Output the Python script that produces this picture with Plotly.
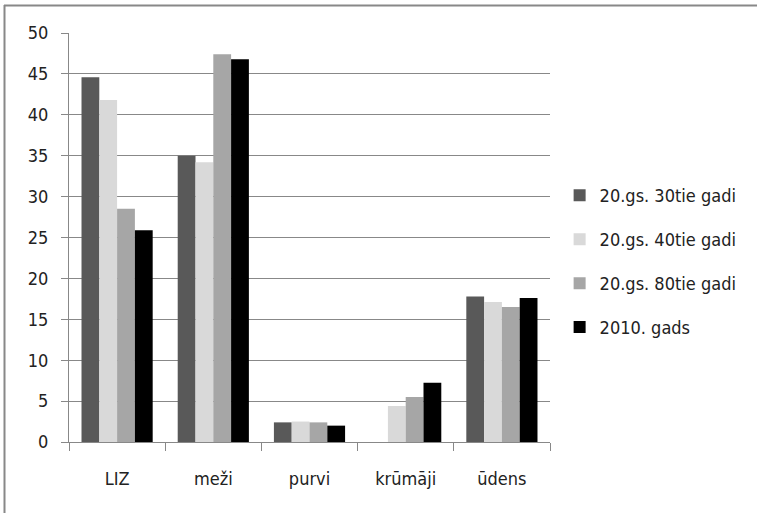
import plotly.graph_objects as go

categories = ["LIZ", "meži", "purvi", "krūmāji", "ūdens"]
series_names = ["20.gs. 30tie gadi", "20.gs. 40tie gadi", "20.gs. 80tie gadi", "2010. gads"]
s30 = [44.6, 35.0, 2.4, 0.0, 17.8]
s40 = [41.8, 34.2, 2.5, 4.4, 17.1]
s80 = [28.5, 47.4, 2.4, 5.5, 16.5]
s2010 = [25.9, 46.8, 2.0, 7.25, 17.6]
y_ticks = [0, 5, 10, 15, 20, 25, 30, 35, 40, 45, 50]

colors = ["#595959", "#d9d9d9", "#a6a6a6", "#000000"]
FONT = "DejaVu Sans Condensed, DejaVu Sans, sans-serif"

fig = go.Figure()
for i, (name, vals) in enumerate(zip(series_names, [s30, s40, s80, s2010])):
    fig.add_trace(go.Bar(x=categories, y=vals, name=name, marker_color=colors[i],
                         marker_line_width=0, legendgroup=name))

fig.update_layout(
    width=757, height=515,
    margin=dict(l=69, r=207, t=33, b=73),
    paper_bgcolor="white", plot_bgcolor="white",
    barmode="group", bargap=0.26, bargroupgap=0,
    font=dict(family=FONT, size=18, color="#222222"),
    showlegend=True,
    legend=dict(x=1.02, xanchor="left", y=0.441, yanchor="middle",
                font=dict(family=FONT, size=18, color="#222222"),
                tracegroupgap=17.5, bgcolor="rgba(0,0,0,0)"),
    xaxis=dict(showgrid=False, showline=True, linecolor="#888888", linewidth=1,
               ticks="outside", tickson="boundaries", ticklen=8, tickcolor="#888888",
               ticklabelstandoff=20, tickfont=dict(size=18)),
    yaxis=dict(range=[0, 50], tickvals=y_ticks, showgrid=True, gridcolor="#888888",
               gridwidth=1, showline=True, linecolor="#888888", linewidth=1,
               ticks="outside", ticklen=7, tickcolor="#888888", zeroline=False,
               ticklabelstandoff=9, tickfont=dict(size=18)),
)
# chart-area border (top and left visible)
fig.add_shape(type="line", xref="paper", yref="paper",
              x0=(4 - 69) / 481, x1=(757 - 69) / 481, y0=(442 - 5.5) / 409, y1=(442 - 5.5) / 409,
              line=dict(color="#888888", width=2))
fig.add_shape(type="line", xref="paper", yref="paper",
              x0=(4.5 - 69) / 481, x1=(4.5 - 69) / 481, y0=(442 - 5) / 409, y1=(442 - 513) / 409,
              line=dict(color="#888888", width=2))

fig.write_html("out.html", config={"displayModeBar": False},
               post_script="document.body.style.margin='0';document.body.style.overflow='hidden';")
